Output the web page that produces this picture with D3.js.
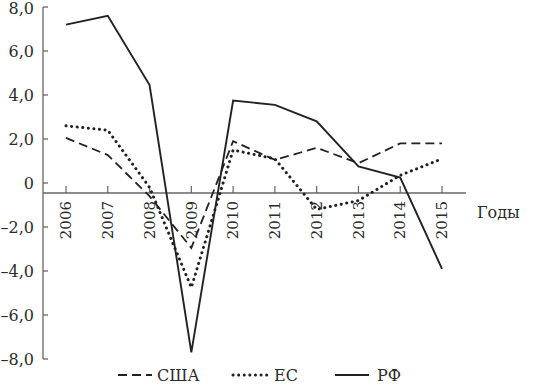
<!DOCTYPE html>
<html>
<head>
<meta charset="utf-8">
<script src="https://cdn.jsdelivr.net/npm/d3@7"></script>
<style>
    body { margin: 0; background: #fff; }
    svg text { font-family: "DejaVu Serif", serif; fill: #2b2b2b; }
</style>
</head>
<body>
<svg id="chart" width="546" height="386"></svg>
<script>
// Data
var years = [2006, 2007, 2008, 2009, 2010, 2011, 2012, 2013, 2014, 2015];
var usa = [2.05, 1.27, -0.6, -2.95, 1.9, 1.05, 1.6, 0.9, 1.8, 1.8];
var eu = [2.6, 2.4, -0.2, -4.75, 1.5, 1.1, -1.2, -0.8, 0.35, 1.1];
var rf = [7.2, 7.6, 4.45, -7.7, 3.75, 3.55, 2.8, 0.75, 0.25, -3.9];
var yTicks = [8, 6, 4, 2, 0, -2, -4, -6, -8];
var seriesNames = ["США", "ЕС", "РФ"];

var svg = d3.select("#chart");
var axisColor = "#666";
var lineColor = "#222";

// scales
var x = d3.scalePoint()
    .domain(years)
    .range([66, 442]);

var y = d3.scaleLinear()
    .domain([-8, 8])
    .range([359, 7]);

var axisX0 = 43;      // y axis position
var axisY0 = 193;     // horizontal axis sits a bit under zero in the original

function fmt(v) {
    if (v === 0) return "0";
    var s = Math.abs(v).toFixed(1).replace(".", ",");
    return (v < 0 ? "\u2013" : "") + s;
}

// Y axis
svg.append("line")
    .attr("x1", axisX0).attr("x2", axisX0)
    .attr("y1", y(8)).attr("y2", y(-8))
    .attr("stroke", axisColor).attr("stroke-width", 1.3);

svg.selectAll(".ytick")
    .data(yTicks).enter()
    .append("line")
    .attr("class", "ytick")
    .attr("x1", axisX0).attr("x2", axisX0 + 5)
    .attr("y1", function(d) { return y(d); })
    .attr("y2", function(d) { return y(d); })
    .attr("stroke", axisColor).attr("stroke-width", 1.3);

svg.selectAll(".ylabel")
    .data(yTicks).enter()
    .append("text")
    .attr("class", "ylabel")
    .attr("x", 34)
    .attr("y", function(d) { return Math.max(y(d), 8); })
    .attr("dy", "0.35em")
    .style("text-anchor", "end")
    .style("font-size", "16px")
    .text(fmt);

// X axis
svg.append("line")
    .attr("x1", axisX0).attr("x2", 466)
    .attr("y1", axisY0).attr("y2", axisY0)
    .attr("stroke", axisColor).attr("stroke-width", 1.3);

svg.selectAll(".xtick")
    .data(years).enter()
    .append("line")
    .attr("class", "xtick")
    .attr("x1", function(d) { return x(d); })
    .attr("x2", function(d) { return x(d); })
    .attr("y1", axisY0).attr("y2", axisY0 - 7)
    .attr("stroke", axisColor).attr("stroke-width", 1.2);

svg.selectAll(".xlabel")
    .data(years).enter()
    .append("text")
    .attr("class", "xlabel")
    .attr("transform", function(d) { return "translate(" + x(d) + "," + (axisY0 + 8) + ") rotate(-90)"; })
    .attr("dy", "0.35em")
    .style("text-anchor", "end")
    .style("font-size", "15px")
    .text(function(d) { return d; });

svg.append("text")
    .attr("x", 477)
    .attr("y", 218)
    .style("font-size", "16px")
    .text("Годы");

// Lines
var line = d3.line()
    .x(function(d, i) { return x(years[i]); })
    .y(function(d) { return y(d); });

var styles = [
    { data: usa, dash: "9,5", width: 1.8, cap: "butt" },
    { data: eu, dash: "0.1,5.5", width: 3, cap: "round" },
    { data: rf, dash: null, width: 1.9, cap: "butt" }
];

styles.forEach(function(s) {
    svg.append("path")
        .attr("d", line(s.data))
        .attr("fill", "none")
        .attr("stroke", lineColor)
        .attr("stroke-width", s.width)
        .attr("stroke-linecap", s.cap)
        .attr("stroke-linejoin", "miter")
        .attr("stroke-dasharray", s.dash);
});

// Legend
var legendX = [118, 233, 335];
var legendY = 375;
styles.forEach(function(s, i) {
    svg.append("line")
        .attr("x1", legendX[i]).attr("x2", legendX[i] + 34)
        .attr("y1", legendY).attr("y2", legendY)
        .attr("stroke", lineColor)
        .attr("stroke-width", s.width)
        .attr("stroke-linecap", s.cap)
        .attr("stroke-dasharray", s.dash);
    svg.append("text")
        .attr("x", legendX[i] + (i == 2 ? 42 : i == 1 ? 41 : 39))
        .attr("y", legendY)
        .attr("dy", "0.35em")
        .style("font-size", "16px")
        .text(seriesNames[i]);
});
</script>
</body>
</html>
